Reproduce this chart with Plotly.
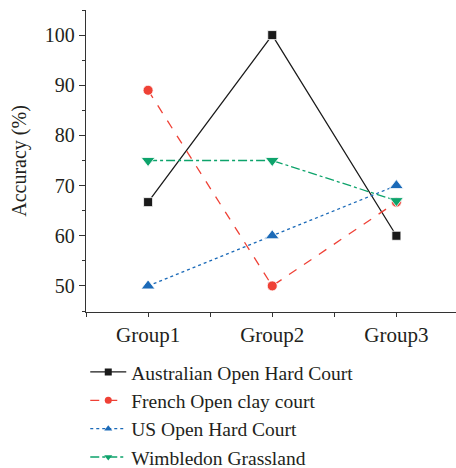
import plotly.graph_objects as go

groups = ["Group1", "Group2", "Group3"]
x_pos = [1, 2, 3]
australian = [66.7, 100, 60]
french = [89, 50, 66.7]
us_open = [50, 60, 70]
wimbledon = [75, 75, 67]

series = [
    ("Australian Open Hard Court", australian, "#1a1a1a", "solid", "square", 9),
    ("French Open clay court", french, "#EF4136", "dash", "circle", 10),
    ("US Open Hard Court", us_open, "#1B6AB8", "dot", "triangle-up", 12),
    ("Wimbledon Grassland", wimbledon, "#0DA36B", "dashdot", "triangle-down", 12),
]

fig = go.Figure()
for name, vals, color, dash, sym, msize in series:
    fig.add_trace(go.Scatter(
        x=x_pos, y=vals, name=name, mode="lines+markers", showlegend=False,
        line=dict(color=color, width=1.3, dash=dash),
        marker=dict(symbol=sym, size=msize, color=color,
                    line=dict(color="white", width=0.8)),
    ))
# legend entries (smaller symbols, as in the reference legend)
for name, vals, color, dash, sym, msize in series:
    fig.add_trace(go.Scatter(
        x=[None], y=[None], name=name, mode="lines+markers",
        line=dict(color=color, width=1.3, dash=dash),
        marker=dict(symbol=sym, size=7, color=color),
    ))

font = "Liberation Serif"
txt = "#231F20"
fig.update_layout(
    width=456, height=468,
    margin=dict(l=86, r=0, t=10, b=156, autoexpand=False),
    paper_bgcolor="white", plot_bgcolor="white",
    font=dict(family=font, size=20, color=txt),
    showlegend=True,
    legend=dict(x=-0.002, y=-0.135, xanchor="left", yanchor="top",
                font=dict(family=font, size=19.5, color=txt),
                bgcolor="rgba(0,0,0,0)", tracegroupgap=0, itemwidth=36),
    xaxis=dict(range=[0.5, 3.48], tickvals=x_pos, ticktext=groups,
               automargin=False,
               showgrid=False, zeroline=False, showline=True,
               linecolor="#333", linewidth=1.3,
               ticks="outside", ticklen=4, tickcolor="#333", tickwidth=1.3,
               minor=dict(tick0=0.5, dtick=1, ticks="outside", ticklen=4,
                          tickcolor="#333", tickwidth=1.3),
               tickfont=dict(family=font, size=21, color=txt)),
    yaxis=dict(range=[44.8, 105], tickvals=[50, 60, 70, 80, 90, 100],
               automargin=False,
               showgrid=False, zeroline=False, showline=True,
               linecolor="#333", linewidth=1.3,
               ticks="outside", ticklen=6, tickcolor="#333", tickwidth=1.3,
               minor=dict(tick0=45, dtick=5, ticks="outside", ticklen=3,
                          tickcolor="#333", tickwidth=1.3),
               title=dict(text="Accuracy (%)", font=dict(family=font, size=20, color=txt),
                          standoff=12),
               tickfont=dict(family=font, size=20, color=txt)),
)

fig.write_html("out.html", config={"displayModeBar": False},
               post_script="document.body.style.margin='0';")
